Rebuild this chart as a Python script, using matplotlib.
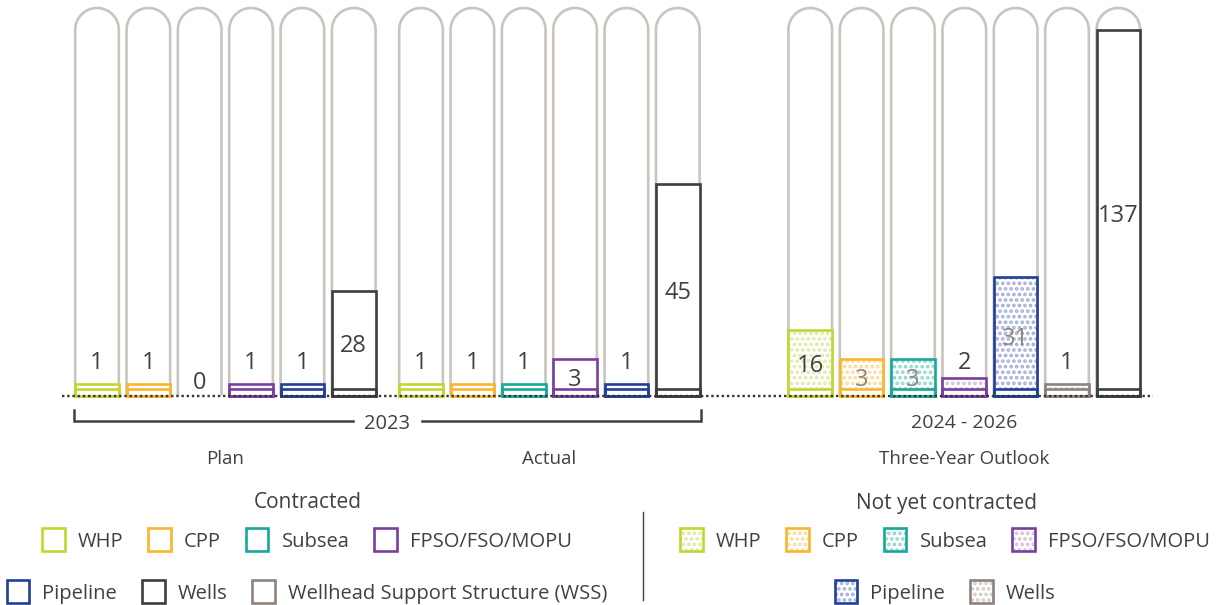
import matplotlib
matplotlib.use("Agg")
import matplotlib.pyplot as plt
from matplotlib.patches import Patch, PathPatch
from matplotlib.path import Path
from matplotlib.legend_handler import HandlerTuple
import numpy as np

plt.rcParams['font.family'] = ['Open Sans', 'DejaVu Sans']
plt.rcParams['hatch.linewidth'] = 1.8

# ---------------- data ----------------
group_names = ["Plan", "Actual", "Three-Year Outlook"]
plan_categories = ["WHP", "CPP", "Subsea", "FPSO/FSO/MOPU", "Pipeline", "Wells"]
plan_values = [1, 1, 0, 1, 1, 28]
plan_heights = [2.9, 2.9, 0, 2.9, 2.9, 26.9]          # drawn bar length (capsule = 100)

actual_categories = ["WHP", "CPP", "Subsea", "FPSO/FSO/MOPU", "Pipeline", "Wells"]
actual_values = [1, 1, 1, 3, 1, 45]
actual_heights = [2.9, 2.9, 2.9, 9.4, 2.9, 54.5]

outlook_categories = ["WHP*", "CPP*", "Subsea*", "FPSO/FSO/MOPU*", "Pipeline*", "Wells*", "Wells"]
outlook_values = [16, 3, 3, 2, 31, 1, 137]
outlook_heights = [16.9, 9.3, 9.3, 4.5, 30.6, 2.9, 94.3]

contracted_legend_row1 = ["WHP", "CPP", "Subsea", "FPSO/FSO/MOPU"]
contracted_legend_row2 = ["Pipeline", "Wells", "Wellhead Support Structure (WSS)"]
notyet_legend_row1 = ["WHP*", "CPP*", "Subsea*", "FPSO/FSO/MOPU*"]
notyet_legend_row2 = ["Pipeline*", "Wells*"]

# ---------------- styles ----------------
edge_colors = {
    "WHP": "#c3d62f", "CPP": "#fab52c", "Subsea": "#17a89a",
    "FPSO/FSO/MOPU": "#7a3f9d", "Pipeline": "#213f99", "Wells": "#3d3d3d",
    "Wellhead Support Structure (WSS)": "#8d827c",
}
dot_colors = {
    "WHP*": "#dfe9a6", "CPP*": "#fdd996", "Subsea*": "#8fd5cc",
    "FPSO/FSO/MOPU*": "#d2bde0", "Pipeline*": "#a0acda", "Wells*": "#d0c9c4",
}
edge_for_star = {
    "WHP*": "#c3d62f", "CPP*": "#fab52c", "Subsea*": "#17a89a",
    "FPSO/FSO/MOPU*": "#7a3f9d", "Pipeline*": "#213f99", "Wells*": "#8d827c",
}
dim_labels = {"CPP*", "Subsea*", "Pipeline*"}
TEXT = "#404040"
DIM = "#8c8580"
CAPSULE = "#c9c5bd"
LW = 1.9
BASE_H = 1.7
CAP_H = 100.0
BAR_W = 0.85

# ---------------- figure ----------------
W, H = 1226, 605
fig = plt.figure(figsize=(W / 100, H / 100), dpi=100)
ax = fig.add_axes([0, 0, 1, 1])
px_x = 51.35      # pixels per slot
px_y = 3.875      # pixels per height unit
x0_px, base_px = 97, 395.5
ax.set_xlim(-x0_px / px_x, (W - x0_px) / px_x)
ax.set_ylim(-(H - base_px) / px_y, base_px / px_y)
ax.axis("off")

positions = [np.arange(6) + 0.0, np.arange(6) + 6.31, np.arange(7) + 13.89]
groups = [
    (plan_categories, plan_values, plan_heights),
    (actual_categories, actual_values, actual_heights),
    (outlook_categories, outlook_values, outlook_heights),
]

rx = BAR_W / 2
ry = rx * px_x / px_y


def capsule(xc):
    t = np.linspace(np.pi, 0, 40)
    xs = np.concatenate([[xc - rx], xc + rx * np.cos(t), [xc + rx]])
    ys = np.concatenate([[0], CAP_H - ry + ry * np.sin(t), [0]])
    return PathPatch(Path(np.column_stack([xs, ys])), fill=False,
                     edgecolor=CAPSULE, lw=LW, zorder=1)


for xs, (cats, vals, hts) in zip(positions, groups):
    for xc, cat, v, h in zip(xs, cats, vals, hts):
        ax.add_patch(capsule(xc))
        if h > 0:
            if cat.endswith("*"):
                ec = edge_for_star[cat]
                ax.bar(xc, h - BASE_H, bottom=BASE_H, width=BAR_W, color="white",
                       edgecolor=dot_colors[cat], hatch="...", lw=0, zorder=2)
            else:
                ec = edge_colors[cat]
                ax.bar(xc, h, width=BAR_W, color="white", lw=0, zorder=2)
            ax.bar(xc, h, width=BAR_W, fill=False, edgecolor=ec, lw=LW, zorder=3)
            ax.bar(xc, BASE_H, width=BAR_W, fill=False, edgecolor=ec, lw=LW, zorder=3)
        if h >= 9:
            ly = h / 2
        elif v > 0:
            ly = 9.2
        else:
            ly = 4.0
        ax.text(xc, ly, str(v), ha="center", va="center_baseline", fontsize=17,
                color=DIM if cat in dim_labels else TEXT, zorder=5)

# dotted baseline
ax.plot([-0.68, 20.56], [0, 0], color="#333333", lw=1.7,
        linestyle=(0, (1, 1.2)), zorder=6, solid_capstyle="butt")

# bracket for 2023
bl = positions[0][0] - BAR_W / 2 - 0.02
br = positions[1][-1] + BAR_W / 2 + 0.02
bm = (bl + br) / 2
gap = 0.67
y_top, y_bot = -3.7, -6.7
ax.plot([bl, bl, bm - gap], [y_top, y_bot, y_bot], color=TEXT, lw=1.8,
        solid_joinstyle="miter")
ax.plot([bm + gap, br, br], [y_bot, y_bot, y_top], color=TEXT, lw=1.8,
        solid_joinstyle="miter")
ax.text(bm, y_bot, "2023", ha="center", va="center_baseline", fontsize=14.5, color=TEXT)
ax.text(positions[2].mean(), y_bot, "2024 - 2026", ha="center",
        va="center_baseline", fontsize=14, color=TEXT)

for xs, name in zip(positions, group_names):
    ax.text(xs.mean(), -15.9, name, ha="center", va="center_baseline",
            fontsize=13.5, color=TEXT)


# ---------------- legends ----------------
def handle(cat):
    if cat.endswith("*"):
        dots = Patch(facecolor="white", edgecolor=dot_colors[cat], hatch="...", lw=0)
        edge = Patch(facecolor="none", edgecolor=edge_for_star[cat], lw=LW)
        return (dots, edge)
    return Patch(facecolor="white", edgecolor=edge_colors[cat], lw=LW)


def label(cat):
    return cat.rstrip("*")


def add_legend(cats, cx, cy):
    fs = 14.5
    lg = fig.legend([handle(c) for c in cats], [label(c) for c in cats],
                    loc="center", bbox_to_anchor=(cx / W, 1 - cy / H),
                    ncol=len(cats), frameon=False, fontsize=fs,
                    handlelength=1.12, handleheight=1.35, handletextpad=0.65,
                    columnspacing=1.24, borderpad=0, borderaxespad=0,
                    handler_map={tuple: HandlerTuple(ndivide=1, pad=0)})
    for t in lg.get_texts():
        t.set_color(TEXT)
    return lg


add_legend(contracted_legend_row1, 307, 540)
add_legend(contracted_legend_row2, 307, 592)
add_legend(notyet_legend_row1, 945, 540)
add_legend(notyet_legend_row2, 945, 592)

fig.text(308 / W, 1 - 502 / H, "Contracted", ha="center", va="center",
         fontsize=15, color=TEXT)
fig.text(946 / W, 1 - 503 / H, "Not yet contracted", ha="center", va="center",
         fontsize=15, color=TEXT)
fig.add_artist(plt.Line2D([643 / W, 643 / W], [1 - 512 / H, 1 - 600 / H],
                          transform=fig.transFigure, color=TEXT, lw=1))

fig.savefig("out.png", dpi=100)
